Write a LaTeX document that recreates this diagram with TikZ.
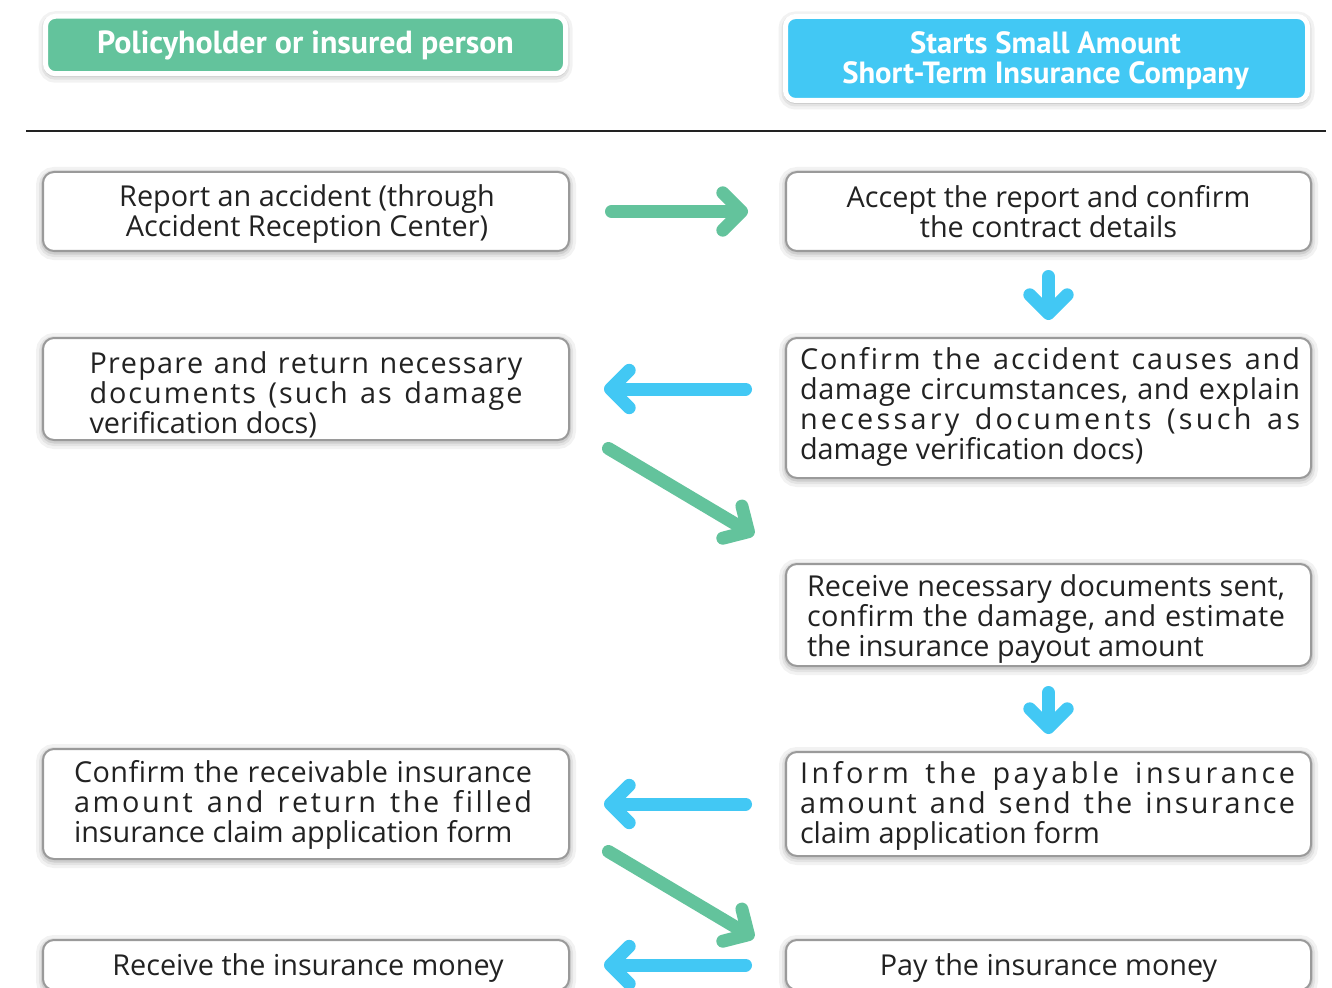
\documentclass[tikz,border=0pt]{standalone}
\usepackage{fontspec}
\setmainfont{Open Sans}
\newfontfamily\headfont{PT Sans}
\usetikzlibrary{arrows.meta,calc}
\newlength\px \setlength\px{0.75pt}
\definecolor{cgreen}{HTML}{63C39C}
\definecolor{ccyan}{HTML}{42C8F4}
\definecolor{cborder}{HTML}{9A9A9A}
\definecolor{ctext}{HTML}{222222}
\makeatletter
\newcommand\jline[2]{\hbox to #1\px{\jl@words#2 \@nil}}
\def\jl@words#1 #2\@nil{\jl@letters#1\@nil\ifx\relax#2\relax\else\hskip\fontdimen2\font plus 2.5fil\relax\jl@words#2\@nil\fi}
\def\jl@letters#1#2\@nil{#1\ifx\relax#2\relax\else\hskip 0pt plus 1fil\relax\jl@letters#2\@nil\fi}
\makeatother
\begin{document}
\begin{tikzpicture}[x=0.75pt,y=-0.75pt,
  glow/.style={
    preaction={draw=black,draw opacity=0.05,line width=14\px,transform canvas={yshift=-2\px}},
    preaction={draw=black,draw opacity=0.06,line width=8\px,transform canvas={yshift=-2\px}},
    preaction={draw=black,draw opacity=0.09,line width=4\px,transform canvas={yshift=-1.5\px}}},
  box/.style={glow,draw=cborder,line width=2\px,rounded corners=11\px,fill=white,
    inner sep=0pt,outer sep=0pt},
  lbox/.style={box,minimum width=526\px},
  rbox/.style={box,minimum width=525\px},
  txt/.style={inner sep=0pt,text=ctext,font=\fontsize{21.6}{22.5}\selectfont},
  head/.style={glow,draw=white,line width=5\px,rounded corners=10\px,
    inner sep=0pt,outer sep=0pt},
  htxt/.style={inner sep=0pt,text=white,align=center,font=\headfont\bfseries\fontsize{#1}{22.5}\selectfont},
  arr/.style={line width=13\px,line cap=round,-{Straight Barb[length=14pt,width=28pt,round]}},
  garrow/.style={arr,draw=cgreen},
  carrow/.style={arr,draw=ccyan}]
\useasboundingbox (0,0) rectangle (1332,988);
\fill[white] (0,0) rectangle (1332,988);
% headers
\node[head,fill=cgreen,minimum width=520\px,minimum height=57.5\px] (H1) at (305.5,45) {};
\node[htxt=24] (H1t) at ($(H1)+(0,0)$) {Policyholder or insured person};
\node[head,fill=ccyan,minimum width=522\px,minimum height=84\px] (H2) at (1046.5,58.5) {};
\node[htxt=23] (H2t) at ($(H2)+(-1,2)$) {Starts Small Amount\\Short-Term Insurance Company};
\coordinate (r1) at (26,131);
\coordinate (r2) at (1326,131);
\draw[line width=2\px,ctext] (r1) -- (r2);
% boxes
\node[lbox,minimum height=79\px] (L1) at (306,211.5) {};
\node[txt,align=center] (L1t) at ($(L1)+(1,3)$) {Report an accident (through\\Accident Reception Center)};
\node[rbox,minimum height=79\px] (R1) at (1048.5,211.5) {};
\node[txt,align=center] (R1t) at ($(R1)+(0,0)$) {Accept the report and confirm\\the contract details};
\node[lbox,minimum height=102\px] (L2) at (306,389) {};
\node[txt,align=left] (L2t) at ($(L2)+(0,6)$) {\jline{433}{Prepare and return necessary}\\\jline{433}{documents (such as damage}\\verification docs)};
\node[rbox,minimum height=140\px] (R2) at (1048.5,408) {};
\node[txt,align=left] (R2t) at ($(R2)+(1.5,-1)$) {\jline{500}{Confirm the accident causes and}\\\jline{500}{damage circumstances, and explain}\\\jline{500}{necessary documents (such as}\\damage verification docs)};
\node[rbox,minimum height=102\px] (R3) at (1048.5,615) {};
\node[txt,align=left] (R3t) at ($(R3)+(-2.5,4)$) {\jline{478}{Receive necessary documents sent,}\\\jline{478}{confirm the damage, and estimate}\\the insurance payout amount};
\node[lbox,minimum height=110\px] (L4) at (306,804) {};
\node[txt,align=left] (L4t) at ($(L4)+(-3,1)$) {\jline{458}{Confirm the receivable insurance}\\\jline{458}{amount and return the filled}\\insurance claim application form};
\node[rbox,minimum height=104\px] (R4) at (1048.5,804) {};
\node[txt,align=left] (R4t) at ($(R4)+(-1,2)$) {\jline{495}{Inform the payable insurance}\\\jline{495}{amount and send the insurance}\\claim application form};
\node[lbox,minimum height=50\px] (L5) at (306,965) {};
\node[txt] (L5t) at ($(L5)+(2,3)$) {Receive the insurance money};
\node[rbox,minimum height=50\px] (R5) at (1048.5,965) {};
\node[txt] (R5t) at ($(R5)+(0,3)$) {Pay the insurance money};
% arrows
\draw[garrow] ($(L1.east)+(42.5,0)$) -- ($(R1.west)+(-38,0)$);
\draw[carrow] ($(R1.south)+(0,25.5)$) -- ($(R2.north)+(0,-18)$);
\draw[carrow] ($(R2.west|-L2.east)+(-40.5,0)$) -- ($(L2.east)+(35,0)$);
\draw[garrow] ($(L2.south east)+(39.5,8.5)$) -- ($(R3.north west)+(-32,-29)$);
\draw[carrow] ($(R3.south)+(0,26.5)$) -- ($(R4.north)+(0,-18)$);
\draw[carrow] ($(R4.west|-L4.east)+(-40.5,0)$) -- ($(L4.east)+(35,0)$);
\draw[garrow] ($(L4.south east)+(39.5,-7.5)$) -- ($(R5.north west)+(-32,-2)$);
\draw[carrow] ($(R5.west|-L5.east)+(-40.5,0)$) -- ($(L5.east)+(35,0)$);
\end{tikzpicture}
\end{document}
